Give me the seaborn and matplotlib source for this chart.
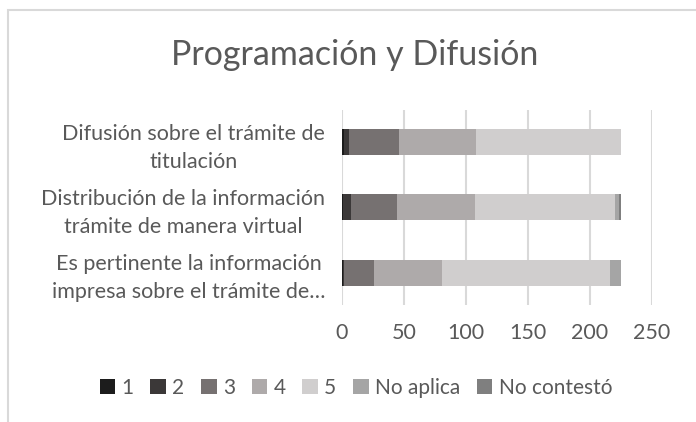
import numpy as np
import pandas as pd
import matplotlib
matplotlib.use("Agg")
import matplotlib.pyplot as plt
from matplotlib.patches import Patch, Rectangle
import seaborn as sns

# datos
preguntas = [
    "Difusión sobre el trámite de\ntitulación",
    "Distribución de la información\ntrámite de manera virtual",
    "Es pertinente la información\nimpresa sobre el trámite de…",
]
respuestas = ["1", "2", "3", "4", "5", "No aplica", "No contestó"]
r1 = [2, 1, 1]
r2 = [4, 6, 1]
r3 = [40, 37, 24]
r4 = [62, 63, 55]
r5 = [117, 113, 135]
no_aplica = [0, 3, 9]
no_contesto = [0, 2, 0]
colores = ["#1c1c1c", "#3b3838", "#767171", "#aeaaaa", "#d0cece", "#a5a5a5", "#7f7f7f"]

series = [r1, r2, r3, r4, r5, no_aplica, no_contesto]
acum = np.cumsum(np.array(series), axis=0)

sns.set_style("white")
plt.rcParams["font.family"] = ["Lato", "DejaVu Sans"]
gris = "#595959"

fig = plt.figure(figsize=(6.96, 4.22), dpi=100)
ax = fig.add_axes([342 / 696, 1 - 305 / 422, 310 / 696, 195 / 422])

# barras apiladas: se dibuja de la suma total hacia atras
for i in range(len(series) - 1, -1, -1):
    df = pd.DataFrame({"pregunta": preguntas, "valor": acum[i]})
    sns.barplot(data=df, x="valor", y="pregunta", orient="h", color=colores[i],
                width=0.4, saturation=1, ax=ax, linewidth=0)

ax.set_xlim(0, 250)
ax.set_ylim(2.5, -0.5)
ax.set_xticks(range(0, 251, 50))
ax.set_xlabel("")
ax.set_ylabel("")
ax.xaxis.grid(True, color="#d9d9d9", linewidth=1.5)
ax.set_axisbelow(True)
for s in ax.spines.values():
    s.set_visible(False)
ax.tick_params(axis="both", length=0, colors=gris, labelsize=15.5)
ax.tick_params(axis="x", pad=13)
ax.tick_params(axis="y", pad=12)
for t in ax.get_yticklabels():
    t.set_multialignment("center")
    t.set_linespacing(1.45)

fig.text(355 / 696, 1 - 55 / 422, "Programación y Difusión", ha="center", va="center",
         fontsize=24.5, color=gris)

handles = [Patch(facecolor=c, edgecolor="none") for c in colores]
fig.legend(handles, respuestas, loc="center", bbox_to_anchor=(356 / 696, 1 - 388 / 422),
           ncol=7, frameon=False, fontsize=15, handlelength=0.75, handleheight=0.75,
           handletextpad=0.3, columnspacing=0.8, labelcolor=gris)

# marco del grafico (recortado a la derecha y abajo)
fig.patches.append(Rectangle((8 / 696, -0.1), 1.2, 1 - 10 / 422 + 0.1, transform=fig.transFigure,
                             fill=False, edgecolor="#d9d9d9", linewidth=1.5))

fig.savefig("out.png", dpi=100)
